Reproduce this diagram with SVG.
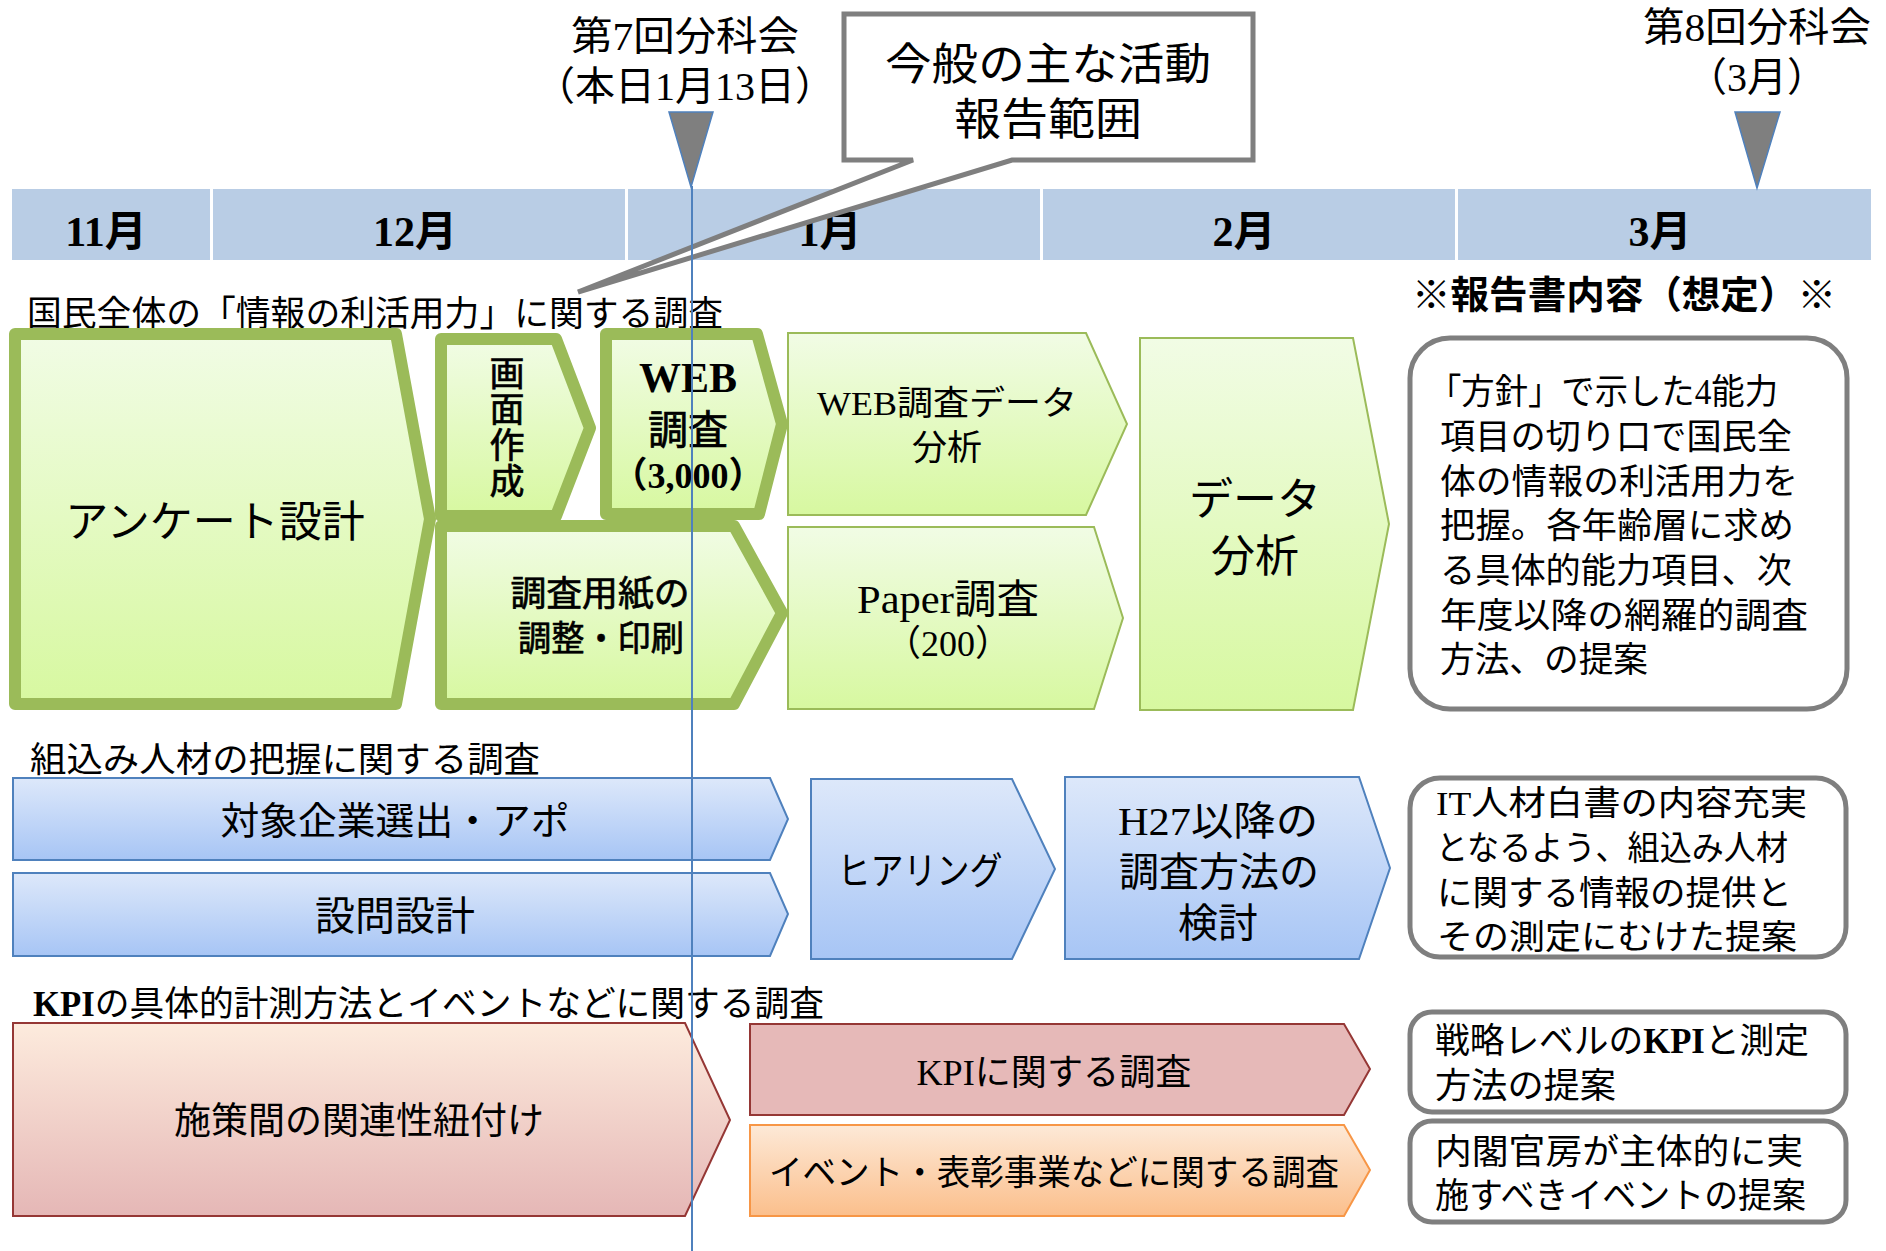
<svg xmlns="http://www.w3.org/2000/svg" width="1886" height="1251" viewBox="0 0 1886 1251">
<defs>
  <linearGradient id="gGreen" x1="0" y1="0" x2="0" y2="1">
    <stop offset="0" stop-color="#F1FCE5"/>
    <stop offset="1" stop-color="#D7F8A0"/>
  </linearGradient>
  <linearGradient id="gBlue" x1="0" y1="0" x2="0" y2="1">
    <stop offset="0" stop-color="#DDE8FA"/>
    <stop offset="1" stop-color="#A7C5F5"/>
  </linearGradient>
  <linearGradient id="gPink" x1="0" y1="0" x2="0" y2="1">
    <stop offset="0" stop-color="#FDEBDD"/>
    <stop offset="1" stop-color="#E5B7B6"/>
  </linearGradient>
  <linearGradient id="gOrange" x1="0" y1="0" x2="0" y2="1">
    <stop offset="0" stop-color="#FDE9D7"/>
    <stop offset="1" stop-color="#FBBF8C"/>
  </linearGradient>
</defs>
<style>
  text { font-family: "Liberation Serif", "Noto Sans CJK JP", serif; fill: #000; }
  .b { font-weight: bold; }
  .md { stroke: #000; stroke-width: 0.7; }
  .m { text-anchor: middle; }
  .cell { fill: #B9CDE5; }
  .gthick { fill: url(#gGreen); stroke: #9BBB59; stroke-width: 12; stroke-linejoin: round; }
  .gthin { fill: url(#gGreen); stroke: #9BBB59; stroke-width: 2; }
  .blue { fill: url(#gBlue); stroke: #4F81BD; stroke-width: 2; }
  .pink { fill: url(#gPink); stroke: #953735; stroke-width: 2; }
  .kpi { fill: #E6B9B8; stroke: #953735; stroke-width: 2; }
  .orange { fill: url(#gOrange); stroke: #F79646; stroke-width: 2; }
  .box { fill: #FFFFFF; stroke: #7F7F7F; stroke-width: 5; }
  .tri { fill: #7F7F7F; stroke: #4F81BD; stroke-width: 1.5; }
</style>
<rect x="0" y="0" width="1886" height="1251" fill="#FFFFFF"/>

<g id="timeline">
  <rect class="cell" x="12" y="189" width="198" height="71"/>
  <rect class="cell" x="213" y="189" width="412" height="71"/>
  <rect class="cell" x="628" y="189" width="412" height="71"/>
  <rect class="cell" x="1043" y="189" width="412" height="71"/>
  <rect class="cell" x="1458" y="189" width="413" height="71"/>
  <text class="b m" x="106" y="246" font-size="42">11月</text>
  <text class="b m" x="415" y="246" font-size="42">12月</text>
  <text class="b m" x="830" y="246" font-size="42">1月</text>
  <text class="b m" x="1244" y="246" font-size="42">2月</text>
  <text class="b m" x="1660" y="246" font-size="42">3月</text>
</g>

<g id="meeting7">
  <text class="m" x="685" y="50" font-size="40" textLength="228" lengthAdjust="spacingAndGlyphs">第7回分科会</text>
  <text class="m" x="685" y="100" font-size="40">（本日1月13日）</text>
  <polygon class="tri" points="669,112 713,112 691,187"/>
</g>

<g id="meeting8">
  <text class="m" x="1757" y="41" font-size="40" textLength="228" lengthAdjust="spacingAndGlyphs">第8回分科会</text>
  <text class="m" x="1757" y="91" font-size="40">（3月）</text>
  <polygon class="tri" points="1735,112 1780,112 1757,188"/>
</g>

<g id="callout">
  <path class="box" d="M844,14 H1253 V160 H1012 L578,292 L913,160 H844 Z" stroke-linejoin="miter"/>
  <text class="m" x="1048" y="80" font-size="44" textLength="326" lengthAdjust="spacingAndGlyphs">今般の主な活動</text>
  <text class="m" x="1048" y="135" font-size="44" textLength="188" lengthAdjust="spacingAndGlyphs">報告範囲</text>
</g>

<g id="section1-title">
  <text x="27" y="326" font-size="35" textLength="696" lengthAdjust="spacingAndGlyphs">国民全体の「情報の利活用力」に関する調査</text>
</g>
<g id="report-title">
  <text class="b" x="1412" y="308" font-size="38" textLength="424" lengthAdjust="spacingAndGlyphs">※報告書内容（想定）※</text>
</g>

<g id="n-questionnaire">
  <path class="gthick" d="M15,334 H396 L430,519 L396,704 H15 Z"/>
  <text class="m" x="215" y="537" font-size="43">アンケート設計</text>
</g>
<g id="n-screen">
  <path class="gthick" d="M441,339 H556 L590,428 L556,516 H441 Z"/>
  <text class="md m" font-size="35"><tspan x="507" y="386">画</tspan><tspan x="507" y="422">面</tspan><tspan x="507" y="458">作</tspan><tspan x="507" y="494">成</tspan></text>
</g>
<g id="n-web">
  <path class="gthick" d="M606,334 H757 L782,424 L759,514 H606 Z"/>
  <text class="b m" x="688" y="392" font-size="42">WEB</text>
  <text class="md m" x="688" y="444" font-size="40">調査</text>
  <text class="b m" x="688" y="488" font-size="36">（3,000）</text>
</g>
<g id="n-paper-prep">
  <path class="gthick" d="M441,526 H734 L782,613 L734,704 H441 Z"/>
  <text class="md m" x="600" y="606" font-size="35" textLength="179" lengthAdjust="spacingAndGlyphs">調査用紙の</text>
  <text class="md m" x="601" y="651" font-size="35" textLength="166" lengthAdjust="spacingAndGlyphs">調整・印刷</text>
</g>
<g id="n-web-analysis">
  <path class="gthin" d="M788,333 H1086 L1127,424 L1086,515 H788 Z"/>
  <text class="m" x="947" y="415" font-size="34" textLength="260" lengthAdjust="spacingAndGlyphs">WEB調査データ</text>
  <text class="m" x="947" y="460" font-size="35">分析</text>
</g>
<g id="n-paper">
  <path class="gthin" d="M788,527 H1094 L1123,618 L1094,709 H788 Z"/>
  <text class="m" x="948" y="613" font-size="40" textLength="182" lengthAdjust="spacingAndGlyphs">Paper調査</text>
  <text class="m" x="948" y="656" font-size="36">（200）</text>
</g>
<g id="n-data-analysis">
  <path class="gthin" d="M1140,338 H1353 L1389,524 L1353,710 H1140 Z"/>
  <text class="m" x="1255" y="515" font-size="44">データ</text>
  <text class="m" x="1255" y="572" font-size="44">分析</text>
</g>
<g id="n-report1">
  <rect class="box" x="1410" y="338" width="437" height="371" rx="40"/>
  <text x="1428" y="404" font-size="35" textLength="350" lengthAdjust="spacingAndGlyphs">「方針」で示した4能力</text>
  <text x="1440" y="449" font-size="35" textLength="352" lengthAdjust="spacingAndGlyphs">項目の切り口で国民全</text>
  <text x="1440" y="494" font-size="35" textLength="358" lengthAdjust="spacingAndGlyphs">体の情報の利活用力を</text>
  <text x="1440" y="538" font-size="35" textLength="354" lengthAdjust="spacingAndGlyphs">把握。各年齢層に求め</text>
  <text x="1440" y="583" font-size="35" textLength="352" lengthAdjust="spacingAndGlyphs">る具体的能力項目、次</text>
  <text x="1440" y="628" font-size="35" textLength="368" lengthAdjust="spacingAndGlyphs">年度以降の網羅的調査</text>
  <text x="1440" y="672" font-size="35" textLength="208" lengthAdjust="spacingAndGlyphs">方法、の提案</text>
</g>

<g id="section2-title">
  <text x="30" y="772" font-size="35" textLength="510" lengthAdjust="spacingAndGlyphs">組込み人材の把握に関する調査</text>
</g>
<g id="n-select">
  <path class="blue" d="M13,778 H770 L788,819 L770,860 H13 Z"/>
  <text class="m" x="395" y="834" font-size="38" textLength="349" lengthAdjust="spacingAndGlyphs">対象企業選出・アポ</text>
</g>
<g id="n-design">
  <path class="blue" d="M13,873 H770 L788,914 L770,956 H13 Z"/>
  <text class="m" x="395" y="930" font-size="40">設問設計</text>
</g>
<g id="n-hearing">
  <path class="blue" d="M811,779 H1012 L1055,869 L1012,959 H811 Z"/>
  <text class="m" x="920" y="884" font-size="38" textLength="165" lengthAdjust="spacingAndGlyphs">ヒアリング</text>
</g>
<g id="n-h27">
  <path class="blue" d="M1065,777 H1359 L1390,868 L1359,959 H1065 Z"/>
  <text class="m" x="1218" y="835" font-size="40" textLength="200" lengthAdjust="spacingAndGlyphs">H27以降の</text>
  <text class="m" x="1219" y="886" font-size="40">調査方法の</text>
  <text class="m" x="1218" y="937" font-size="40">検討</text>
</g>
<g id="n-report2">
  <rect class="box" x="1410" y="778" width="436" height="179" rx="30"/>
  <text x="1436" y="815" font-size="34" textLength="371" lengthAdjust="spacingAndGlyphs">IT人材白書の内容充実</text>
  <text x="1436" y="860" font-size="34" textLength="352" lengthAdjust="spacingAndGlyphs">となるよう、組込み人材</text>
  <text x="1437" y="905" font-size="34" textLength="355" lengthAdjust="spacingAndGlyphs">に関する情報の提供と</text>
  <text x="1437" y="949" font-size="34" textLength="360" lengthAdjust="spacingAndGlyphs">その測定にむけた提案</text>
</g>

<g id="section3-title">
  <text x="33" y="1016" font-size="35" textLength="791" lengthAdjust="spacingAndGlyphs"><tspan class="b">KPI</tspan>の具体的計測方法とイベントなどに関する調査</text>
</g>
<g id="n-link">
  <path class="pink" d="M13,1023 H685 L730,1120 L685,1216 H13 Z"/>
  <text class="m" x="359" y="1134" font-size="37">施策間の関連性紐付け</text>
</g>
<g id="n-kpi">
  <path class="kpi" d="M750,1024 H1344 L1370,1069 L1344,1115 H750 Z"/>
  <text class="m" x="1054" y="1085" font-size="36" textLength="275" lengthAdjust="spacingAndGlyphs">KPIに関する調査</text>
</g>
<g id="n-event">
  <path class="orange" d="M750,1125 H1344 L1370,1170 L1344,1216 H750 Z"/>
  <text class="m" x="1054" y="1185" font-size="35" textLength="570" lengthAdjust="spacingAndGlyphs">イベント・表彰事業などに関する調査</text>
</g>
<g id="n-report3">
  <rect class="box" x="1410" y="1012" width="436" height="100" rx="22"/>
  <text x="1435" y="1053" font-size="35" textLength="374" lengthAdjust="spacingAndGlyphs">戦略レベルの<tspan class="b">KPI</tspan>と測定</text>
  <text x="1435" y="1098" font-size="35" textLength="181" lengthAdjust="spacingAndGlyphs">方法の提案</text>
</g>
<g id="n-report4">
  <rect class="box" x="1410" y="1121" width="436" height="101" rx="22"/>
  <text x="1435" y="1164" font-size="35" textLength="368" lengthAdjust="spacingAndGlyphs">内閣官房が主体的に実</text>
  <text x="1435" y="1208" font-size="35" textLength="371" lengthAdjust="spacingAndGlyphs">施すべきイベントの提案</text>
</g>

<g id="connectors">
  <line x1="692" y1="186" x2="692" y2="1251" stroke="#4F81BD" stroke-width="2"/>
</g>
</svg>
